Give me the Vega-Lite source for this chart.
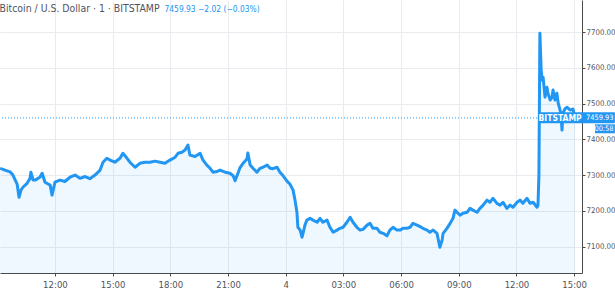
{
  "$schema": "https://vega.github.io/schema/vega-lite/v6.json",
  "width": 582,
  "height": 273,
  "autosize": "none",
  "padding": {"left": 0, "top": 0, "right": 33, "bottom": 15},
  "background": "white",
  "config": {"view": {"stroke": null}, "font": "Liberation Sans Narrow, DejaVu Sans Condensed, Liberation Sans, sans-serif"},
  "datasets": {
    "btc": [
      {"t":549,"p":7319},{"t":564,"p":7314},{"t":580,"p":7309},{"t":589,"p":7300},{"t":602,"p":7275},{"t":608,"p":7238},{"t":614,"p":7258},{"t":620,"p":7266},{"t":633,"p":7277},{"t":642,"p":7290},{"t":645,"p":7308},{"t":652,"p":7286},{"t":658,"p":7286},{"t":673,"p":7294},{"t":680,"p":7305},{"t":689,"p":7280},{"t":705,"p":7272},{"t":711,"p":7244},{"t":720,"p":7280},{"t":736,"p":7286},{"t":751,"p":7282},{"t":767,"p":7294},{"t":783,"p":7300},{"t":798,"p":7291},{"t":814,"p":7296},{"t":829,"p":7290},{"t":845,"p":7300},{"t":861,"p":7314},{"t":870,"p":7336},{"t":882,"p":7347},{"t":892,"p":7342},{"t":907,"p":7336},{"t":923,"p":7347},{"t":932,"p":7361},{"t":945,"p":7347},{"t":954,"p":7336},{"t":970,"p":7322},{"t":985,"p":7333},{"t":1001,"p":7336},{"t":1017,"p":7336},{"t":1032,"p":7339},{"t":1048,"p":7336},{"t":1063,"p":7333},{"t":1079,"p":7342},{"t":1095,"p":7350},{"t":1104,"p":7361},{"t":1116,"p":7364},{"t":1126,"p":7370},{"t":1135,"p":7384},{"t":1141,"p":7356},{"t":1157,"p":7352},{"t":1173,"p":7361},{"t":1182,"p":7342},{"t":1194,"p":7328},{"t":1204,"p":7319},{"t":1213,"p":7308},{"t":1226,"p":7310},{"t":1235,"p":7314},{"t":1251,"p":7308},{"t":1266,"p":7305},{"t":1276,"p":7298},{"t":1282,"p":7284},{"t":1291,"p":7305},{"t":1297,"p":7320},{"t":1307,"p":7333},{"t":1319,"p":7345},{"t":1322,"p":7362},{"t":1329,"p":7328},{"t":1338,"p":7319},{"t":1350,"p":7308},{"t":1360,"p":7319},{"t":1369,"p":7322},{"t":1382,"p":7328},{"t":1391,"p":7319},{"t":1400,"p":7318},{"t":1413,"p":7322},{"t":1422,"p":7308},{"t":1432,"p":7298},{"t":1444,"p":7283},{"t":1453,"p":7275},{"t":1463,"p":7258},{"t":1469,"p":7230},{"t":1475,"p":7196},{"t":1478,"p":7154},{"t":1485,"p":7146},{"t":1491,"p":7126},{"t":1494,"p":7137},{"t":1500,"p":7160},{"t":1506,"p":7174},{"t":1516,"p":7179},{"t":1525,"p":7174},{"t":1538,"p":7168},{"t":1547,"p":7179},{"t":1556,"p":7168},{"t":1569,"p":7174},{"t":1578,"p":7154},{"t":1588,"p":7140},{"t":1600,"p":7146},{"t":1609,"p":7151},{"t":1619,"p":7154},{"t":1631,"p":7168},{"t":1641,"p":7182},{"t":1650,"p":7168},{"t":1662,"p":7154},{"t":1672,"p":7146},{"t":1681,"p":7148},{"t":1694,"p":7160},{"t":1703,"p":7165},{"t":1712,"p":7151},{"t":1725,"p":7151},{"t":1734,"p":7140},{"t":1744,"p":7137},{"t":1756,"p":7130},{"t":1765,"p":7146},{"t":1775,"p":7154},{"t":1787,"p":7146},{"t":1797,"p":7146},{"t":1806,"p":7151},{"t":1818,"p":7151},{"t":1828,"p":7154},{"t":1837,"p":7165},{"t":1850,"p":7160},{"t":1859,"p":7156},{"t":1868,"p":7151},{"t":1881,"p":7146},{"t":1890,"p":7140},{"t":1900,"p":7146},{"t":1912,"p":7137},{"t":1921,"p":7098},{"t":1928,"p":7118},{"t":1931,"p":7137},{"t":1943,"p":7151},{"t":1953,"p":7165},{"t":1962,"p":7179},{"t":1968,"p":7202},{"t":1974,"p":7196},{"t":1984,"p":7188},{"t":1993,"p":7193},{"t":2006,"p":7196},{"t":2015,"p":7207},{"t":2024,"p":7202},{"t":2037,"p":7196},{"t":2046,"p":7207},{"t":2056,"p":7216},{"t":2068,"p":7230},{"t":2077,"p":7224},{"t":2087,"p":7235},{"t":2099,"p":7221},{"t":2109,"p":7216},{"t":2118,"p":7224},{"t":2130,"p":7207},{"t":2140,"p":7216},{"t":2149,"p":7210},{"t":2162,"p":7224},{"t":2171,"p":7230},{"t":2180,"p":7221},{"t":2193,"p":7235},{"t":2202,"p":7221},{"t":2212,"p":7224},{"t":2224,"p":7210},{"t":2227,"p":7215},{"t":2230,"p":7300},{"t":2233,"p":7697},{"t":2237,"p":7594},{"t":2240,"p":7566},{"t":2243,"p":7574},{"t":2249,"p":7518},{"t":2255,"p":7546},{"t":2258,"p":7530},{"t":2265,"p":7510},{"t":2271,"p":7518},{"t":2274,"p":7538},{"t":2280,"p":7510},{"t":2286,"p":7529},{"t":2290,"p":7502},{"t":2296,"p":7482},{"t":2299,"p":7470},{"t":2302,"p":7426},{"t":2305,"p":7473},{"t":2311,"p":7485},{"t":2318,"p":7490},{"t":2327,"p":7482},{"t":2336,"p":7485},{"t":2343,"p":7460}
    ]
  },
  "layer": [
    {
      "data": {"name": "btc"},
      "mark": {"type": "area", "color": "#2196f3", "opacity": 0.07},
      "encoding": {
        "x": {
          "field": "t", "type": "quantitative",
          "scale": {"domain": [548.6, 2364.4], "nice": false, "zero": false},
          "axis": {
            "values": [720, 900, 1080, 1260, 1440, 1620, 1800, 1980, 2160, 2340],
            "labelExpr": "datum.value == 1440 ? '4' : (datum.value % 1440 < 600 ? '0' : '') + floor((datum.value % 1440) / 60) + ':00'",
            "grid": true, "gridColor": "#e8ebef",
            "domainColor": "#4a4a4a", "tickColor": "#4a4a4a", "tickSize": 3,
            "labelColor": "#50535e", "labelFontSize": 9.5, "labelPadding": 3,
            "title": "Bitcoin / U.S. Dollar · 1 · BITSTAMP",
            "titleFontWeight": "normal", "titleFontSize": 10.4, "titleColor": "#50535e",
            "titleX": -1, "titleY": -262, "titleAlign": "left", "titleBaseline": "alphabetic"
          }
        },
        "y": {
          "field": "p", "type": "quantitative",
          "scale": {"domain": [7026, 7790], "nice": false, "zero": false},
          "axis": {
            "orient": "right",
            "values": [7100, 7200, 7300, 7400, 7500, 7600, 7700],
            "format": ".2f",
            "grid": true, "gridColor": "#e8ebef",
            "domainColor": "#4a4a4a", "tickColor": "#4a4a4a", "tickSize": 3,
            "labelColor": "#50535e", "labelFontSize": 7.8, "labelPadding": 1,
            "title": "7459.93  −2.02 (−0.03%)",
            "titleFontWeight": "normal", "titleFontSize": 8.4, "titleColor": "#2196f3",
            "titleAngle": 0, "titleX": -418, "titleY": 11, "titleAlign": "left", "titleBaseline": "alphabetic"
          }
        },
        "y2": {"datum": 7026}
      }
    },
    {
      "data": {"values": [{}]},
      "mark": {"type": "rule", "color": "#2196f3", "strokeDash": [1, 2], "strokeWidth": 1},
      "encoding": {"y": {"datum": 7459.93}}
    },
    {
      "data": {"name": "btc"},
      "mark": {"type": "line", "color": "#2196f3", "strokeWidth": 3, "strokeJoin": "round"},
      "encoding": {
        "x": {"field": "t", "type": "quantitative"},
        "y": {"field": "p", "type": "quantitative"}
      }
    },
    {
      "data": {"values": [{}]},
      "mark": {"type": "rect", "color": "#2196f3"},
      "encoding": {
        "x": {"datum": 2233}, "x2": {"datum": 2467},
        "y": {"datum": 7476}, "y2": {"datum": 7445}
      }
    },
    {
      "data": {"values": [{}]},
      "mark": {"type": "rect", "color": "#2196f3"},
      "encoding": {
        "x": {"datum": 2405}, "x2": {"datum": 2467},
        "y": {"datum": 7442}, "y2": {"datum": 7417}
      }
    },
    {
      "data": {"values": [{}]},
      "mark": {"type": "text", "color": "white", "fontSize": 8.5, "fontWeight": "bold", "align": "center", "baseline": "middle", "text": "BITSTAMP"},
      "encoding": {"x": {"datum": 2296}, "y": {"datum": 7460}}
    },
    {
      "data": {"values": [{}]},
      "mark": {"type": "text", "color": "white", "fontSize": 7.4, "align": "left", "baseline": "middle", "text": "7459.93"},
      "encoding": {"x": {"datum": 2377}, "y": {"datum": 7460}}
    },
    {
      "data": {"values": [{}]},
      "mark": {"type": "text", "color": "white", "fontSize": 7.4, "align": "center", "baseline": "middle", "text": "00:58"},
      "encoding": {"x": {"datum": 2433}, "y": {"datum": 7430}}
    }
  ]
}
